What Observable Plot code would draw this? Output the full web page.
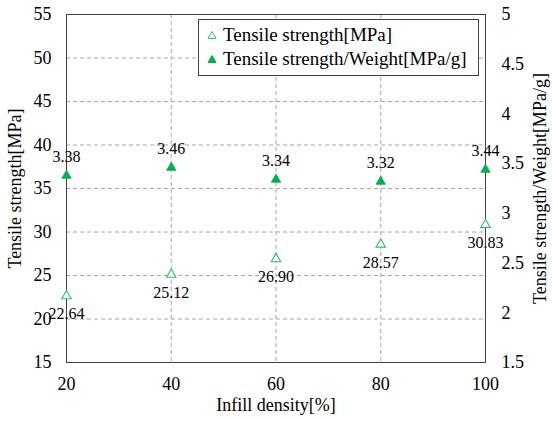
<!DOCTYPE html>
<html>
<head>
<meta charset="utf-8">
<script src="https://cdn.jsdelivr.net/npm/d3@7"></script>
<script src="https://cdn.jsdelivr.net/npm/@observablehq/plot@0.6"></script>
<style>
  html, body { margin: 0; padding: 0; background: white; }
  #wrap { position: relative; width: 553px; height: 421px; }
  #wrap svg, #wrap svg text, #wrap svg g { font-family: "Liberation Serif", "Times New Roman", serif !important; font-variant: normal !important; }
  #legend {
    position: absolute; left: 198px; top: 19px; width: 281px; height: 57px;
    box-sizing: border-box; border: 1px solid #404040; background: white;
    font-family: "Liberation Serif", "Times New Roman", serif; font-size: 19px; color: #000;
  }
  #legend .row { position: absolute; left: 8px; height: 22px; display: flex; align-items: center; }
  #legend svg { margin-right: 6px; }
</style>
</head>
<body>
<div id="wrap"></div>
<script>
const density = [20, 40, 60, 80, 100];
const strength = [22.64, 25.12, 26.90, 28.57, 30.83];
const ratio = [3.38, 3.46, 3.34, 3.32, 3.44];
const leftTicks = [15, 20, 25, 30, 35, 40, 45, 50, 55];
const rightTicks = [1.5, 2, 2.5, 3, 3.5, 4, 4.5, 5];
const seriesNames = ["Tensile strength[MPa]", "Tensile strength/Weight[MPa/g]"];
const xTitle = "Infill density[%]";
const yLeftTitle = "Tensile strength[MPa]";
const yRightTitle = "Tensile strength/Weight[MPa/g]";

const leftDomain = [15, 55];
const rightDomain = [1.5, 5];
const toLeft = v => leftDomain[0] + (v - rightDomain[0]) * (leftDomain[1] - leftDomain[0]) / (rightDomain[1] - rightDomain[0]);
const fromLeft = v => rightDomain[0] + (v - leftDomain[0]) * (rightDomain[1] - rightDomain[0]) / (leftDomain[1] - leftDomain[0]);

const green = "#00b050";
const openGreen = "#2fbf62";

const dataS = density.map((d, i) => ({x: d, v: strength[i]}));
const dataR = density.map((d, i) => ({x: d, v: ratio[i], y: toLeft(ratio[i])}));

const chart = Plot.plot({
  width: 553, height: 421,
  marginLeft: 66, marginRight: 68, marginTop: 14, marginBottom: 59,
  style: {fontFamily: "'Liberation Serif', serif", fontSize: "17px", color: "#000", background: "white"},
  x: {domain: [20, 100]},
  y: {domain: leftDomain},
  marks: [
    Plot.gridY(leftTicks.slice(1, -1), {stroke: "#a6a6a6", strokeOpacity: 1, strokeDasharray: "4,3"}),
    Plot.gridX(density.slice(1, -1), {stroke: "#a6a6a6", strokeOpacity: 1, strokeDasharray: "4,3"}),
    Plot.frame({stroke: "#404040"}),
    Plot.axisY({ticks: leftTicks, tickSize: 0, tickPadding: 15, fontSize: 18, label: null}),
    Plot.axisY({anchor: "right", ticks: rightTicks.map(toLeft), tickSize: 0, tickPadding: 16, fontSize: 18,
      tickFormat: d => String(Math.round(fromLeft(d) * 100) / 100), label: null}),
    Plot.axisX({ticks: density, tickSize: 0, tickPadding: 15, fontSize: 18, label: null}),
    Plot.text([yLeftTitle], {text: d => d, frameAnchor: "left", textAnchor: "middle", lineAnchor: "middle", rotate: -90, dx: -51, fontSize: 18, fill: "#000"}),
    Plot.text([yRightTitle], {text: d => d, frameAnchor: "right", textAnchor: "middle", lineAnchor: "middle", rotate: -90, dx: 55, fontSize: 18, fill: "#000"}),
    Plot.text([xTitle], {text: d => d, frameAnchor: "bottom", textAnchor: "middle", lineAnchor: "middle", dy: 43, fontSize: 18, fill: "#000"}),
    Plot.dot(dataS, {x: "x", y: "v", symbol: "triangle", r: 3.5, stroke: openGreen, strokeWidth: 1.1, fill: "white"}),
    Plot.dot(dataR, {x: "x", y: "y", symbol: "triangle", r: 3.5, fill: green, stroke: green, strokeWidth: 0.8}),
    Plot.text(dataS, {x: "x", y: "v", text: d => d.v.toFixed(2), dy: 18, fontSize: 16, fill: "#000"}),
    Plot.text(dataR, {x: "x", y: "y", text: d => d.v.toFixed(2), dy: -19, fontSize: 16, fill: "#000"})
  ]
});

const wrap = document.getElementById("wrap");
wrap.appendChild(chart);

const legend = document.createElement("div");
legend.id = "legend";
const tri = (filled) => `<svg width="10" height="10" viewBox="0 0 10 10"><path d="M5,1.5 L9,8.5 L1,8.5 Z" fill="${filled ? green : "white"}" stroke="${filled ? green : openGreen}" stroke-width="1"/></svg>`;
legend.innerHTML = `<div class="row" style="top:4px">${tri(false)}<span>${seriesNames[0]}</span></div>
<div class="row" style="top:28px">${tri(true)}<span>${seriesNames[1]}</span></div>`;
wrap.appendChild(legend);
</script>
</body>
</html>
